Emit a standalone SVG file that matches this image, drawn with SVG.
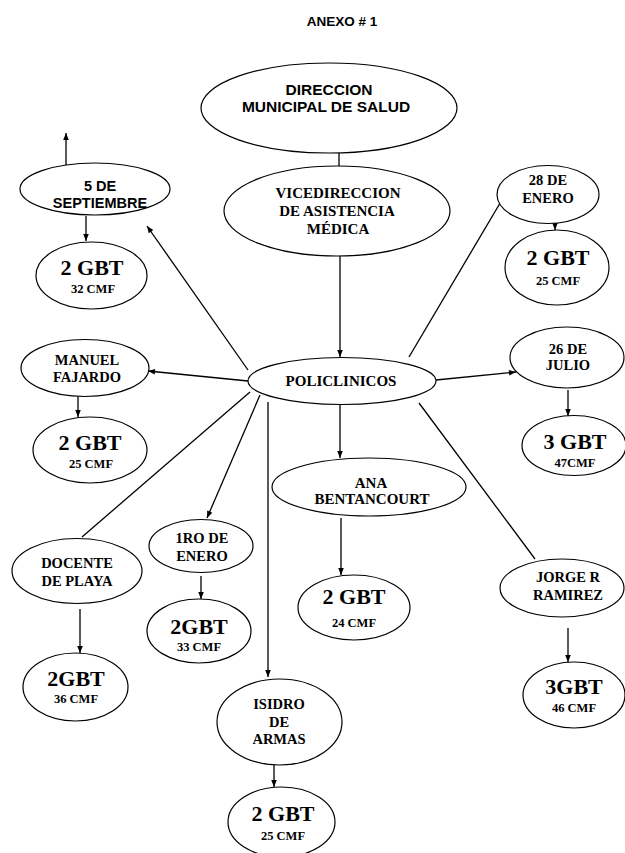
<svg xmlns="http://www.w3.org/2000/svg" width="625" height="853" viewBox="0 0 625 853">
<defs>
<style>
.n{fill:#fff;stroke:#000;stroke-width:1.2}
.c line{stroke:#000;stroke-width:1.3}
.a{marker-end:url(#ah)}
.s{font-family:"Liberation Sans",Arial,sans-serif;font-weight:bold;fill:#000;text-anchor:middle}
.t{font-family:"Liberation Serif","Times New Roman",serif;font-weight:bold;fill:#000;text-anchor:middle}
.big{font-size:22px}
.sm{font-size:12.5px}
.md{font-size:14.5px}
</style>
<marker id="ah" viewBox="0 0 10 10" refX="10" refY="5" markerWidth="8" markerHeight="7" markerUnits="userSpaceOnUse" orient="auto">
<path d="M0,1 L10,5 L0,9 z" fill="#000"/>
</marker>
</defs>
<rect width="625" height="853" fill="#fff"/>
<text x="342" y="26" class="s" font-size="13.5">ANEXO # 1</text>

<g class="c">
<line x1="339" y1="153" x2="339" y2="166"/>
<line class="a" x1="340" y1="256" x2="340" y2="357"/>
<line class="a" x1="66" y1="167" x2="66" y2="133"/>
<line class="a" x1="86" y1="216" x2="86" y2="241"/>
<line class="a" x1="248" y1="370" x2="147" y2="226"/>
<line class="a" x1="409" y1="357" x2="509" y2="188"/>
<line class="a" x1="555" y1="211" x2="555" y2="230"/>
<line class="a" x1="248" y1="381" x2="148" y2="371"/>
<line class="a" x1="78" y1="396" x2="78" y2="417"/>
<line x1="250" y1="392" x2="82" y2="537"/>
<line class="a" x1="260" y1="395" x2="207" y2="518"/>
<line class="a" x1="268" y1="402" x2="268" y2="677"/>
<line class="a" x1="80" y1="609" x2="80" y2="653"/>
<line class="a" x1="201" y1="576" x2="201" y2="599"/>
<line class="a" x1="274" y1="765" x2="274" y2="787"/>
<line class="a" x1="340" y1="404" x2="340" y2="458"/>
<line class="a" x1="341" y1="518" x2="341" y2="575"/>
<line x1="419" y1="403" x2="535" y2="559"/>
<line class="a" x1="568" y1="628" x2="568" y2="662"/>
<line class="a" x1="436" y1="380" x2="516" y2="372"/>
<line class="a" x1="568" y1="390" x2="568" y2="416"/>
</g>

<g id="direccion">
<ellipse class="n" cx="329" cy="108" rx="128" ry="45"/>
<text x="329" y="95" class="s" font-size="15.5">DIRECCION</text>
<text x="326" y="112" class="s" font-size="15.5">MUNICIPAL DE SALUD</text>
</g>
<g id="vicedireccion">
<ellipse class="n" cx="337" cy="211" rx="113" ry="45"/>
<text x="338" y="198" class="t" font-size="15">VICEDIRECCION</text>
<text x="337" y="216" class="t" font-size="15">DE ASISTENCIA</text>
<text x="338" y="234" class="t" font-size="15">MÉDICA</text>
</g>
<g id="policlinicos">
<ellipse class="n" cx="342" cy="381" rx="94" ry="23.5"/>
<text x="341" y="386" class="t" font-size="15">POLICLINICOS</text>
</g>
<g id="sept">
<ellipse class="n" cx="95" cy="189" rx="75" ry="26"/>
<text x="100" y="191" class="s" font-size="14.5">5 DE</text>
<text x="100" y="208" class="s" font-size="14.5">SEPTIEMBRE</text>
</g>
<g id="gbt-sept">
<ellipse class="n" cx="91.5" cy="275.5" rx="55.5" ry="33.5"/>
<text x="92" y="275" class="t big">2 GBT</text>
<text x="93" y="293" class="t sm">32 CMF</text>
</g>
<g id="enero28">
<ellipse class="n" cx="548" cy="194.5" rx="51" ry="29"/>
<text x="548" y="185" class="t md">28 DE</text>
<text x="548" y="203" class="t md">ENERO</text>
</g>
<g id="gbt-enero28">
<ellipse class="n" cx="557" cy="267.5" rx="52" ry="37.5"/>
<text x="558" y="265" class="t big">2 GBT</text>
<text x="558" y="285" class="t sm">25 CMF</text>
</g>
<g id="manuel">
<ellipse class="n" cx="85" cy="368" rx="64" ry="28.5"/>
<text x="87" y="365" class="t md">MANUEL</text>
<text x="87" y="382" class="t md">FAJARDO</text>
</g>
<g id="gbt-manuel">
<ellipse class="n" cx="90" cy="450" rx="57" ry="33"/>
<text x="90" y="450" class="t big">2 GBT</text>
<text x="91" y="468" class="t sm">25 CMF</text>
</g>
<g id="julio26">
<ellipse class="n" cx="567" cy="357.5" rx="57" ry="30.5"/>
<text x="568" y="354" class="t md">26 DE</text>
<text x="568" y="370" class="t md">JULIO</text>
</g>
<g id="gbt-julio26">
<ellipse class="n" cx="574" cy="445.5" rx="52" ry="30"/>
<text x="575" y="449" class="t big">3 GBT</text>
<text x="575" y="467" class="t sm">47CMF</text>
</g>
<g id="ana">
<ellipse class="n" cx="369" cy="487" rx="97" ry="29"/>
<text x="371" y="488" class="t" font-size="15">ANA</text>
<text x="372" y="504" class="t" font-size="15">BENTANCOURT</text>
</g>
<g id="gbt-ana">
<ellipse class="n" cx="354" cy="607.5" rx="56" ry="32.5"/>
<text x="354" y="604" class="t big">2 GBT</text>
<text x="354" y="627" class="t sm">24 CMF</text>
</g>
<g id="docente">
<ellipse class="n" cx="77" cy="571" rx="65" ry="32.5"/>
<text x="77" y="568" class="t md">DOCENTE</text>
<text x="77" y="586" class="t md">DE PLAYA</text>
</g>
<g id="gbt-docente">
<ellipse class="n" cx="75.5" cy="687" rx="52.5" ry="34"/>
<text x="76" y="686" class="t big">2GBT</text>
<text x="76" y="703" class="t sm">36 CMF</text>
</g>
<g id="enero1">
<ellipse class="n" cx="201" cy="546" rx="52" ry="26.5"/>
<text x="202" y="543" class="t md">1RO DE</text>
<text x="202" y="561" class="t md">ENERO</text>
</g>
<g id="gbt-enero1">
<ellipse class="n" cx="199" cy="631" rx="52" ry="32"/>
<text x="199" y="634" class="t big">2GBT</text>
<text x="199" y="651" class="t sm">33 CMF</text>
</g>
<g id="isidro">
<ellipse class="n" cx="279.5" cy="722" rx="62.5" ry="43"/>
<text x="279" y="709" class="t md">ISIDRO</text>
<text x="279" y="727" class="t md">DE</text>
<text x="279" y="744" class="t md">ARMAS</text>
</g>
<g id="gbt-isidro">
<ellipse class="n" cx="281.5" cy="822" rx="53.5" ry="35"/>
<text x="283" y="821" class="t big">2 GBT</text>
<text x="283" y="840" class="t sm">25 CMF</text>
</g>
<g id="jorge">
<ellipse class="n" cx="562" cy="588" rx="62" ry="29"/>
<text x="568" y="582" class="t md">JORGE R</text>
<text x="568" y="600" class="t md">RAMIREZ</text>
</g>
<g id="gbt-jorge">
<ellipse class="n" cx="574" cy="695" rx="51" ry="33"/>
<text x="574" y="694" class="t big">3GBT</text>
<text x="574" y="712" class="t sm">46 CMF</text>
</g>
</svg>
